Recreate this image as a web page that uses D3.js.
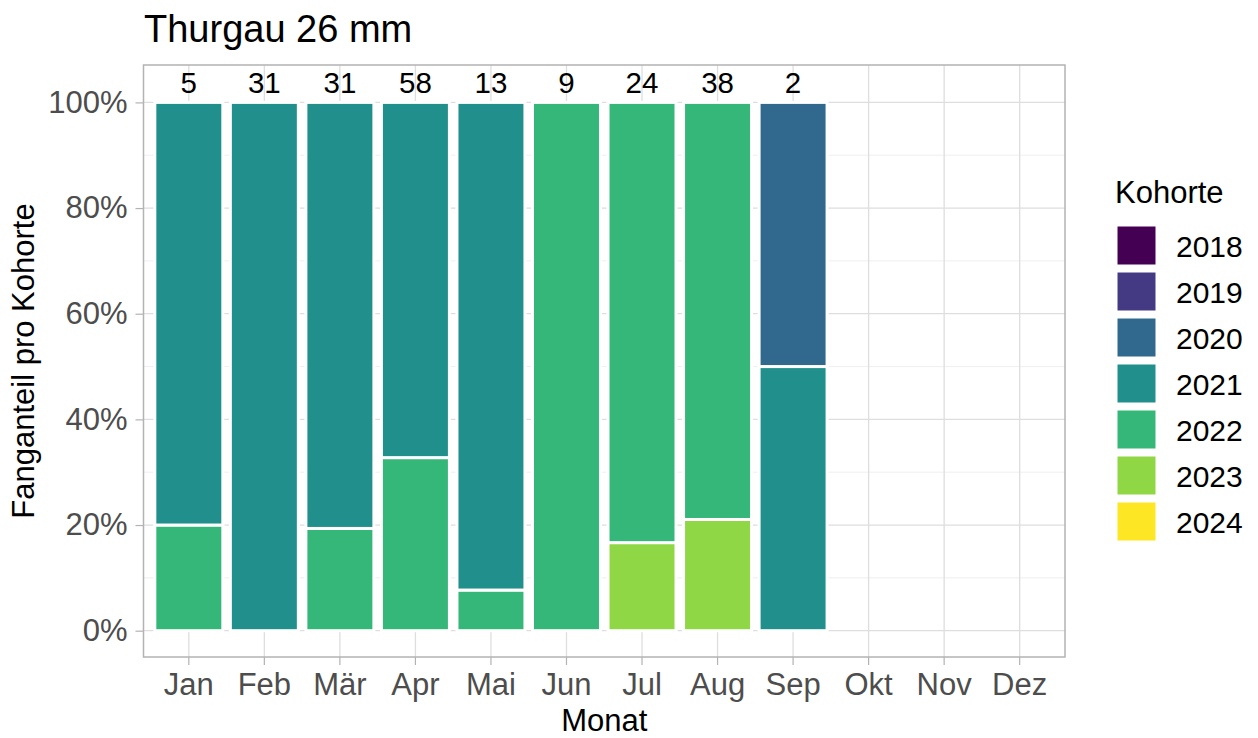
<!DOCTYPE html>
<html>
<head>
<meta charset="utf-8">
<script src="https://cdn.jsdelivr.net/npm/d3@7"></script>
<style>
    body { margin: 0; background: #fff; }
    svg { font-family: "Liberation Sans", Arial, sans-serif; }
</style>
</head>
<body>
<div id="chart"></div>
<script>
const months = ["Jan", "Feb", "Mär", "Apr", "Mai", "Jun", "Jul", "Aug", "Sep", "Okt", "Nov", "Dez"];
const cohorts = ["2018", "2019", "2020", "2021", "2022", "2023", "2024"];
const cohortColors = ["#440154", "#443A83", "#31688E", "#21908C", "#35B779", "#8FD744", "#FDE725"];

// catch counts per cohort and month (only months with catches)
const counts2020 = [0, 0, 0, 0, 0, 0, 0, 0, 1];
const counts2021 = [4, 31, 25, 39, 12, 0, 0, 0, 1];
const counts2022 = [1, 0, 6, 19, 1, 9, 20, 30, 0];
const counts2023 = [0, 0, 0, 0, 0, 0, 4, 8, 0];

const yTicks = [0, 0.2, 0.4, 0.6, 0.8, 1];
const yMinor = [0.1, 0.3, 0.5, 0.7, 0.9];

const W = 1258, H = 738;
const panel = { left: 143.5, right: 1065, top: 65, bottom: 657 };

const rows = counts2021.map((_, i) => {
    const r = {
        month: months[i],
        "2018": 0, "2019": 0,
        "2020": counts2020[i], "2021": counts2021[i],
        "2022": counts2022[i], "2023": counts2023[i], "2024": 0
    };
    r.total = cohorts.reduce((s, k) => s + r[k], 0);
    cohorts.forEach(k => { r[k] = r[k] / r.total; });
    return r;
});

const svg = d3.select("#chart").append("svg")
    .attr("width", W)
    .attr("height", H);

// discrete scale with 0.6 expansion each side
const step = (panel.right - panel.left) / 12.2;
const x = d3.scaleBand()
    .domain(months)
    .range([panel.left + 0.1 * step, panel.right - 0.1 * step])
    .padding(0);

const y = d3.scaleLinear()
    .domain([-0.0498, 1.0708])
    .range([panel.bottom, panel.top]);

const grid = svg.append("g");

grid.selectAll(".minor")
    .data(yMinor)
    .enter()
    .append("line")
    .attr("x1", panel.left).attr("x2", panel.right)
    .attr("y1", d => y(d)).attr("y2", d => y(d))
    .attr("stroke", "#EBEBEB")
    .attr("stroke-width", 0.8);

grid.selectAll(".major-y")
    .data(yTicks)
    .enter()
    .append("line")
    .attr("x1", panel.left).attr("x2", panel.right)
    .attr("y1", d => y(d)).attr("y2", d => y(d))
    .attr("stroke", "#DEDEDE")
    .attr("stroke-width", 1.3);

grid.selectAll(".major-x")
    .data(months)
    .enter()
    .append("line")
    .attr("x1", d => x(d) + x.bandwidth() / 2)
    .attr("x2", d => x(d) + x.bandwidth() / 2)
    .attr("y1", panel.top).attr("y2", panel.bottom)
    .attr("stroke", "#DEDEDE")
    .attr("stroke-width", 1.3);

// stacked bars, later cohorts at the bottom
const stack = d3.stack().keys(cohorts.slice().reverse());
const series = stack(rows);
const color = d3.scaleOrdinal().domain(cohorts).range(cohortColors);
const barW = x.bandwidth() * 0.9;

svg.append("g")
    .selectAll("g")
    .data(series)
    .enter()
    .append("g")
    .attr("fill", d => color(d.key))
    .selectAll("rect")
    .data(d => d.filter(s => s[1] - s[0] > 0))
    .enter()
    .append("rect")
    .attr("x", d => x(d.data.month) + (x.bandwidth() - barW) / 2)
    .attr("width", barW)
    .attr("y", d => y(d[1]))
    .attr("height", d => y(d[0]) - y(d[1]))
    .attr("stroke", "#fff")
    .attr("stroke-width", 3);

// count labels
svg.append("g")
    .selectAll("text")
    .data(rows)
    .enter()
    .append("text")
    .attr("x", d => x(d.month) + x.bandwidth() / 2)
    .attr("y", y(1) - 9.5)
    .attr("text-anchor", "middle")
    .attr("font-size", 29.5)
    .attr("fill", "#000")
    .text(d => d.total);

// panel border
svg.append("rect")
    .attr("x", panel.left).attr("y", panel.top)
    .attr("width", panel.right - panel.left)
    .attr("height", panel.bottom - panel.top)
    .attr("fill", "none")
    .attr("stroke", "#B3B3B3")
    .attr("stroke-width", 1.5);

// axes
const yAxis = d3.axisLeft(y)
    .tickValues(yTicks)
    .tickSize(8)
    .tickPadding(8)
    .tickFormat(d3.format(".0%"));

const gy = svg.append("g")
    .attr("transform", `translate(${panel.left},0)`)
    .call(yAxis);

const xAxis = d3.axisBottom(x)
    .tickSize(8)
    .tickPadding(6);

const gx = svg.append("g")
    .attr("transform", `translate(0,${panel.bottom})`)
    .call(xAxis);

[gx, gy].forEach(g => {
    g.select(".domain").remove();
    g.selectAll(".tick line").attr("stroke", "#B3B3B3").attr("stroke-width", 1.2);
    g.selectAll(".tick text")
        .attr("fill", "#4D4D4D")
        .attr("font-size", 31)
        .attr("font-family", "Liberation Sans, Arial, sans-serif");
});
gx.selectAll(".tick text").attr("dy", "0.77em");

// titles
svg.append("text")
    .attr("x", 144)
    .attr("y", 42)
    .attr("font-size", 38)
    .attr("fill", "#000")
    .text("Thurgau 26 mm");

svg.append("text")
    .attr("x", (panel.left + panel.right) / 2)
    .attr("y", 731)
    .attr("text-anchor", "middle")
    .attr("font-size", 31)
    .attr("fill", "#000")
    .text("Monat");

svg.append("text")
    .attr("transform", `translate(34,${(panel.top + panel.bottom) / 2}) rotate(-90)`)
    .attr("text-anchor", "middle")
    .attr("font-size", 31)
    .attr("fill", "#000")
    .text("Fanganteil pro Kohorte");

// legend
const legend = svg.append("g").attr("transform", "translate(1115,0)");

legend.append("text")
    .attr("x", 0)
    .attr("y", 203)
    .attr("font-size", 31)
    .attr("fill", "#000")
    .text("Kohorte");

const items = legend.selectAll(".item")
    .data(cohorts)
    .enter()
    .append("g")
    .attr("transform", (d, i) => `translate(2,${226 + i * 46})`);

items.append("rect")
    .attr("width", 39)
    .attr("height", 39)
    .attr("fill", d => color(d))
    .attr("stroke", "#fff")
    .attr("stroke-width", 1);

items.append("text")
    .attr("x", 59)
    .attr("y", 30.5)
    .attr("font-size", 30)
    .attr("fill", "#000")
    .text(d => d);
</script>
</body>
</html>
